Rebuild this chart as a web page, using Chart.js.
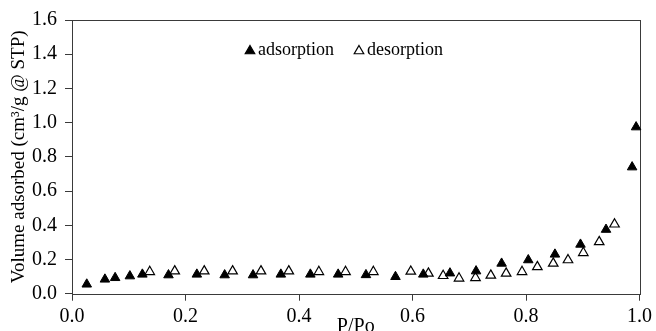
<!DOCTYPE html>
<html>
<head>
<meta charset="utf-8">
<script src="https://cdn.jsdelivr.net/npm/chart.js@4.4.1/dist/chart.umd.min.js"></script>
<style>
    html, body { margin: 0; padding: 0; background: #fff; }
    #wrap { width: 656px; height: 331px; position: relative; }
</style>
</head>
<body>
<div id="wrap"><canvas id="isothermChart"></canvas></div>
<script>
// P/Po and volume
const adsPressure = [0.026, 0.058, 0.076, 0.102, 0.124, 0.170, 0.220, 0.269, 0.319, 0.368, 0.420, 0.469,
    0.518, 0.570, 0.619, 0.666, 0.712, 0.757, 0.804, 0.851, 0.896, 0.941, 0.987, 0.994];
const adsVolume = [0.055, 0.084, 0.093, 0.103, 0.113, 0.109, 0.113, 0.109, 0.109, 0.113, 0.113, 0.113,
    0.110, 0.099, 0.113, 0.120, 0.132, 0.177, 0.197, 0.230, 0.288, 0.375, 0.740, 0.974];
const desPressure = [0.956, 0.929, 0.901, 0.874, 0.848, 0.820, 0.793, 0.765, 0.738, 0.711, 0.682, 0.654,
    0.628, 0.597, 0.531, 0.482, 0.435, 0.382, 0.333, 0.283, 0.233, 0.181, 0.137];
const desVolume = [0.406, 0.303, 0.239, 0.197, 0.177, 0.157, 0.128, 0.119, 0.107, 0.093, 0.090, 0.105,
    0.119, 0.130, 0.128, 0.128, 0.128, 0.132, 0.132, 0.132, 0.132, 0.132, 0.128];
const seriesLabels = ['adsorption', 'desorption'];
const xTitle = 'P/Po';
const yTitle = 'Volume adsorbed (cm\u00B3/g @ STP)';

document.addEventListener('DOMContentLoaded', function() {

    const axisColor = '#3a3a3a';
    const serif = "'Liberation Serif', 'Times New Roman', serif";

    function toPoints(xs, ys) {
        return xs.map(function(x, i) { return { x: x, y: ys[i] }; });
    }

    function triangle(ctx, x, y, r, filled) {
        ctx.beginPath();
        ctx.moveTo(x, y - r);
        ctx.lineTo(x + r * 0.866, y + r * 0.5);
        ctx.lineTo(x - r * 0.866, y + r * 0.5);
        ctx.closePath();
        ctx.fillStyle = filled ? '#000' : '#fff';
        ctx.fill();
        ctx.lineWidth = 1.2;
        ctx.strokeStyle = '#000';
        ctx.stroke();
    }

    // frame around plot area + legend inside it
    const framePlugin = {
        id: 'frame',
        beforeDatasetsDraw: function(chart) {
            const a = chart.chartArea;
            const ctx = chart.ctx;
            ctx.save();
            ctx.strokeStyle = axisColor;
            ctx.lineWidth = 1;
            ctx.strokeRect(Math.round(a.left) + 0.5, Math.round(a.top) + 0.5,
                Math.round(a.right - a.left), Math.round(a.bottom - a.top));
            ctx.restore();
        },
        afterDatasetsDraw: function(chart) {
            const a = chart.chartArea;
            const ctx = chart.ctx;
            ctx.save();
            ctx.font = '18px ' + serif;
            ctx.textBaseline = 'middle';
            ctx.textAlign = 'left';
            ctx.fillStyle = '#000';
            let x = a.left + 173;
            const y = a.top + 30;
            chart.data.datasets.forEach(function(ds, i) {
                triangle(ctx, x + 5, y + 1, 5.5, i === 0);
                ctx.fillStyle = '#000';
                ctx.fillText(ds.label, x + 13, y);
                x += 13 + ctx.measureText(ds.label).width + 20;
            });
            ctx.restore();
        }
    };

    const canvas = document.getElementById('isothermChart');
    new Chart(canvas.getContext('2d'), {
        type: 'scatter',
        data: {
            datasets: [
                {
                    label: seriesLabels[0],
                    data: toPoints(adsPressure, adsVolume),
                    pointStyle: 'triangle',
                    pointRadius: 5.5,
                    backgroundColor: '#000',
                    borderColor: '#000',
                    borderWidth: 1,
                    clip: false
                },
                {
                    label: seriesLabels[1],
                    data: toPoints(desPressure, desVolume),
                    pointStyle: 'triangle',
                    pointRadius: 5.5,
                    backgroundColor: '#fff',
                    borderColor: '#000',
                    borderWidth: 1.2,
                    clip: false
                }
            ]
        },
        options: {
            responsive: true,
            maintainAspectRatio: false,
            animation: false,
            layout: { padding: { top: 19, right: 13, left: 0, bottom: 0 } },
            plugins: {
                legend: { display: false },
                tooltip: { enabled: false }
            },
            scales: {
                x: {
                    type: 'linear',
                    min: 0,
                    max: 1,
                    border: { display: false },
                    grid: { drawOnChartArea: false, drawTicks: true, tickLength: 7, color: axisColor },
                    ticks: {
                        stepSize: 0.2,
                        padding: 4,
                        color: '#000',
                        font: { family: serif, size: 20 },
                        callback: function(v) { return v.toFixed(1); }
                    },
                    title: {
                        display: true,
                        text: xTitle,
                        color: '#000',
                        font: { family: serif, size: 20 },
                        padding: { top: 0, bottom: -8 }
                    },
                    afterFit: function(scale) { scale.height = 37.3; }
                },
                y: {
                    min: 0,
                    max: 1.6,
                    border: { display: false },
                    grid: { drawOnChartArea: false, drawTicks: true, tickLength: 7, color: axisColor },
                    ticks: {
                        stepSize: 0.2,
                        padding: 8,
                        color: '#000',
                        font: { family: serif, size: 20 },
                        callback: function(v) { return v.toFixed(1); }
                    },
                    title: {
                        display: true,
                        text: yTitle,
                        color: '#000',
                        font: { family: serif, size: 19 },
                        padding: { top: 8, bottom: 0 }
                    },
                    afterFit: function(scale) { scale.width = 72; }
                }
            }
        },
        plugins: [framePlugin]
    });
});
</script>
</body>
</html>
